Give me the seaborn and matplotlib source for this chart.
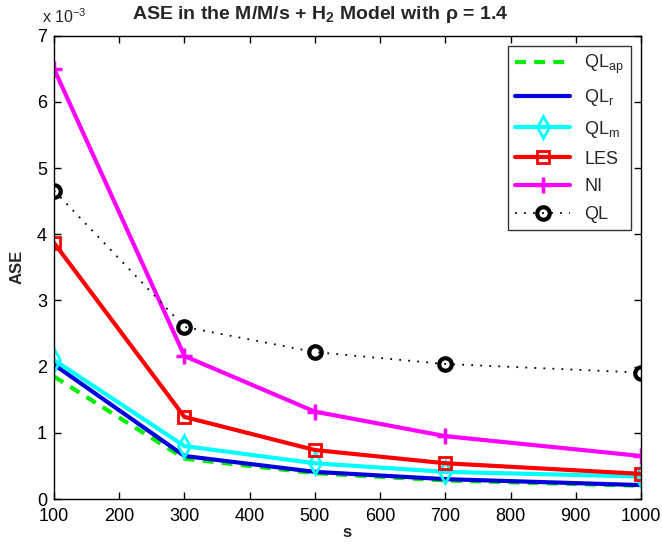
import matplotlib
matplotlib.use("Agg")
import matplotlib.pyplot as plt
import seaborn as sns

# ASE values in units of 1e-3
s_values = [100, 300, 500, 700, 1000]
ql_ap = [1.85, 0.61, 0.39, 0.28, 0.20]
ql_r = [2.03, 0.65, 0.41, 0.30, 0.21]
ql_m = [2.10, 0.80, 0.54, 0.41, 0.34]
les = [3.87, 1.24, 0.74, 0.54, 0.38]
ni = [6.50, 2.16, 1.32, 0.95, 0.65]
ql = [4.66, 2.60, 2.22, 2.04, 1.91]

x_ticks = [100, 200, 300, 400, 500, 600, 700, 800, 900, 1000]
y_ticks = [0, 1, 2, 3, 4, 5, 6, 7]

sns.set_style("ticks")
plt.rcParams['font.family'] = ['Liberation Sans', 'DejaVu Sans']
plt.rcParams['mathtext.fontset'] = 'custom'
plt.rcParams['mathtext.rm'] = 'Liberation Sans'
plt.rcParams['mathtext.it'] = 'Liberation Sans:italic'
plt.rcParams['mathtext.bf'] = 'Liberation Sans:bold'
plt.rcParams['mathtext.default'] = 'regular'

fig = plt.figure(figsize=(6.62, 5.45), dpi=100)
ax = fig.add_axes([0.0816, 0.0844, 0.8866, 0.8501])

lw = 3
sns.lineplot(x=s_values, y=ql_ap, ax=ax, color='#00ee00', lw=lw,
             label='QL$_{ap}$', linestyle=(0, (2.6, 2.0)))
sns.lineplot(x=s_values, y=ql_r, ax=ax, color='#0000dd', lw=lw, label='QL$_r$')
sns.lineplot(x=s_values, y=ql_m, ax=ax, color='cyan', lw=lw, marker='d',
             markersize=11, markerfacecolor='none', markeredgecolor='cyan',
             markeredgewidth=2, label='QL$_m$')
sns.lineplot(x=s_values, y=les, ax=ax, color='red', lw=lw, marker='s',
             markersize=9, markerfacecolor='none', markeredgecolor='red',
             markeredgewidth=2, label='LES')
sns.lineplot(x=s_values, y=ni, ax=ax, color='magenta', lw=lw, marker='+',
             markersize=11, markeredgewidth=2.5, markeredgecolor='magenta',
             label='NI')
sns.lineplot(x=s_values, y=ql, ax=ax, color='black', lw=1.3,
             linestyle=(0, (1, 4)),
             marker='o', markersize=9, markerfacecolor='none',
             markeredgecolor='black', markeredgewidth=3, label='QL')

ax.set_xlim(100, 1000)
ax.set_ylim(0, 7)
ax.set_xticks(x_ticks)
ax.set_yticks(y_ticks)
ax.tick_params(direction='in', top=True, right=True, labelsize=13,
               length=5, width=1, colors='black', pad=5)
ax.tick_params(axis='x', pad=6.5)
for sp in ax.spines.values():
    sp.set_visible(True)
    sp.set_linewidth(1)
    sp.set_color('black')

ax.set_xlabel('s', fontsize=12, fontweight='bold', labelpad=0)
ax.set_ylabel('ASE', fontsize=12, fontweight='bold', labelpad=9)
ax.set_title(r'ASE in the M/M/s + H$_2$ Model with $\rho$ = 1.4',
             fontsize=14, fontweight='bold', pad=12, x=0.453)
ax.text(-0.02, 1.022, r'x 10$^{-3}$', transform=ax.transAxes, fontsize=11.5,
        ha='left', va='bottom')

leg = ax.legend(loc='upper right', fontsize=13, frameon=True, fancybox=False,
                edgecolor='black', handlelength=3.0, borderaxespad=0.55,
                labelspacing=0.6)
leg.get_frame().set_linewidth(1)

fig.savefig('out.png', dpi=100)
